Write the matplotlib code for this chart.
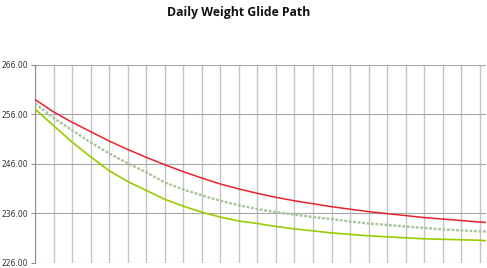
import matplotlib
matplotlib.use("Agg")
import matplotlib.pyplot as plt
from matplotlib.ticker import FormatStrFormatter, MultipleLocator

# Days since start (points read at each vertical gridline, every 15 days, plus the last day)
days = [0, 15, 30, 45, 60, 75, 90, 105, 120, 135, 150, 165, 180, 195, 210,
        225, 240, 255, 270, 285, 300, 315, 330, 345, 360, 365]

upper_path = [259.0, 256.5, 254.4, 252.5, 250.6, 248.9, 247.3, 245.8, 244.4, 243.1,
              241.9, 240.9, 240.0, 239.2, 238.5, 237.9, 237.3, 236.8, 236.3, 235.9,
              235.5, 235.1, 234.8, 234.5, 234.2, 234.1]

target_path = [258.2, 255.3, 252.8, 250.3, 248.1, 246.1, 244.3, 242.2, 240.8, 239.6,
               238.5, 237.6, 236.8, 236.2, 235.7, 235.2, 234.8, 234.3, 233.9, 233.6,
               233.3, 233.0, 232.7, 232.5, 232.3, 232.3]

lower_path = [257.1, 253.7, 250.4, 247.4, 244.6, 242.4, 240.6, 238.8, 237.4, 236.2,
              235.2, 234.4, 233.9, 233.3, 232.8, 232.4, 232.0, 231.7, 231.4, 231.2,
              231.0, 230.8, 230.7, 230.6, 230.5, 230.4]

y_ticks = [226, 236, 246, 256, 266]

fig = plt.figure(figsize=(4.87, 2.68), dpi=100)
ax = fig.add_axes([0.0719, 0.0205, 0.926, 0.737])

ax.plot(days, upper_path, color="#E8222C", lw=1.1, zorder=3)
ax.plot(days, target_path, color="#A8C49A", lw=1.7, ls=(0, (1.2, 0.7)), zorder=3)
ax.plot(days, lower_path, color="#99CC00", lw=1.2, zorder=3)

ax.set_xlim(0, 365)
ax.set_ylim(y_ticks[0], y_ticks[-1])
ax.set_yticks(y_ticks)
ax.yaxis.set_major_formatter(FormatStrFormatter("%.2f"))
ax.xaxis.set_major_locator(MultipleLocator(15))
ax.tick_params(axis="x", length=0, labelbottom=False)
ax.tick_params(axis="y", length=3, width=0.8, color="#909090", labelsize=5.5,
               labelcolor="#333333", pad=2)

ax.grid(axis="x", color="#C4C4C4", lw=1.0, zorder=0)
ax.grid(axis="y", color="#A8A8A8", lw=0.8, zorder=0)
for s in ["top", "right", "bottom"]:
    ax.spines[s].set_visible(False)
ax.spines["left"].set_color("#909090")
ax.spines["left"].set_linewidth(0.8)

fig.text(0.491, 0.955, "Daily Weight Glide Path", ha="center", va="center",
         fontsize=8.8, fontweight="bold", family="Open Sans", color="#111111")

fig.savefig("out.png", dpi=100)
